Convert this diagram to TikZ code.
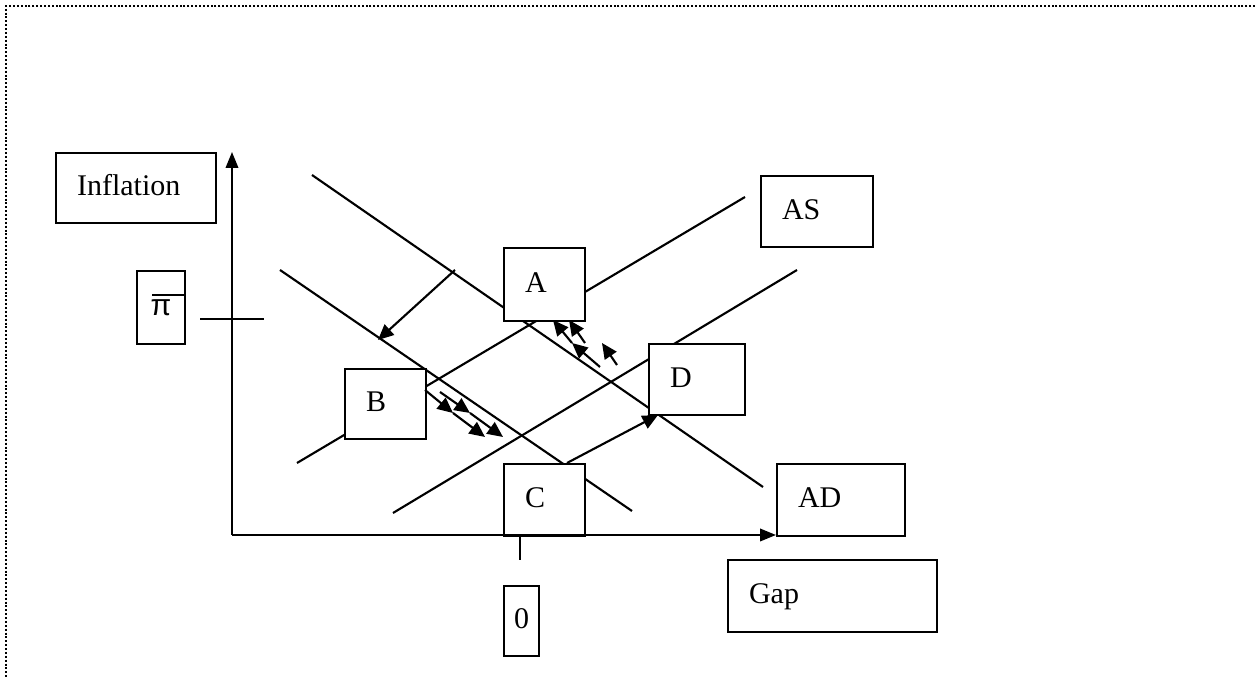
\documentclass[tikz,border=0pt]{standalone}
\usepackage{fontspec}
\setmainfont{Liberation Serif}
\newfontfamily\pisans{Liberation Sans}
\usetikzlibrary{arrows.meta}
\begin{document}
\begin{tikzpicture}[x=0.4pt,y=-0.4pt,line width=0.85pt,
  box/.style={draw,fill=white,rectangle,anchor=north west,inner ysep=0pt,inner xsep=8.4pt,
    align=left,text height=7.5pt,text depth=1.5pt,font=\fontsize{12}{14}\selectfont},
  arr/.style={-{Triangle[length=6.2pt,width=5.6pt]}},
  axarr/.style={-{Triangle[length=6.4pt,width=5pt]}},
  frame/.style={line width=0.8pt,dash pattern=on 0.8pt off 0.75pt}]
\useasboundingbox (0,0) rectangle (1255,677);
% page frame
\draw[frame] (1255,6) -- (6,6) -- (6,677);
% curve end points
\coordinate (ad1s) at (312,175);  \coordinate (ad1e) at (763,487);
\coordinate (ad2s) at (280,270);  \coordinate (ad2e) at (632,511);
\coordinate (as1s) at (297,463);  \coordinate (as1e) at (745,197);
\coordinate (as2s) at (393,513);  \coordinate (as2e) at (797,270);
% curves
\draw (ad1s) -- (ad1e);
\draw (ad2s) -- (ad2e);
\draw (as1s) -- (as1e);
\draw (as2s) -- (as2e);
% shift arrow AD1 -> AD2
\coordinate (sh1) at (455,270); \coordinate (sh2) at (378,340);
\draw[arr] (sh1) -- (sh2);
% boxes
\node[box,text width=47.2pt,minimum height=28pt] (infl) at (55,152) {Inflation};
\node[box,text width=19.2pt,inner xsep=0pt,align=center,minimum height=29.2pt,
      font=\fontsize{12}{14}\pisans] (pi) at (136,270) {π};
\node[box,text width=15.6pt,minimum height=29.2pt] (A) at (503,247) {A};
\node[box,text width=28pt,minimum height=28.4pt] (AS) at (760,175) {AS};
\node[box,text width=15.6pt,minimum height=28pt] (B) at (344,368) {B};
\node[box,text width=21.6pt,minimum height=28.4pt] (D) at (648,343) {D};
\node[box,text width=15.6pt,minimum height=28.8pt] (C) at (503,463) {C};
\node[box,text width=34.4pt,minimum height=28.8pt] (AD) at (776,463) {AD};
\node[box,text width=14pt,inner xsep=0pt,align=center,minimum height=28pt] (zero) at (503,585) {0};
\node[box,text width=66.8pt,minimum height=28.8pt] (gap) at (727,559) {Gap};
% bar over pi
\coordinate (pibar) at (152,295);
\draw (pibar) -- (pibar -| pi.east);
% axes
\coordinate (O) at (232,535);
\coordinate (ytop) at (232,152);
\coordinate (xend) at (776,535);
\draw[axarr] (O) -- (ytop);
\draw[axarr] (O) -- (xend);
% ticks
\coordinate (t0a) at (520,535); \coordinate (t0b) at (520,560);
\draw (t0a) -- (t0b);
\coordinate (tpa) at (200,319); \coordinate (tpb) at (264,319);
\draw (tpa) -- (tpb);
% C -> D
\coordinate (cd1) at (567,463); \coordinate (cd2) at (658,415);
\draw[arr] (cd1) -- (cd2);
% small arrows near B
\coordinate (b1s) at (425,390); \coordinate (b1m) at (453,413); \coordinate (b1e) at (485,437);
\coordinate (b2s) at (440,392); \coordinate (b2m) at (470,413); \coordinate (b2e) at (503,437);
\draw[arr] (b1s) -- (b1m); \draw[arr] (b1m) -- (b1e);
\draw[arr] (b2s) -- (b2m); \draw[arr] (b2m) -- (b2e);
% small arrows near A
\coordinate (a1s) at (600,367); \coordinate (a1m) at (572,343); \coordinate (a1e) at (553,320);
\draw[arr] (a1s) -- (a1m); \draw[arr] (a1m) -- (a1e);
\coordinate (a2s) at (585,343); \coordinate (a2e) at (569,320);
\draw[arr] (a2s) -- (a2e);
\coordinate (a3s) at (617,365); \coordinate (a3e) at (602,343);
\draw[arr] (a3s) -- (a3e);
\end{tikzpicture}
\end{document}
